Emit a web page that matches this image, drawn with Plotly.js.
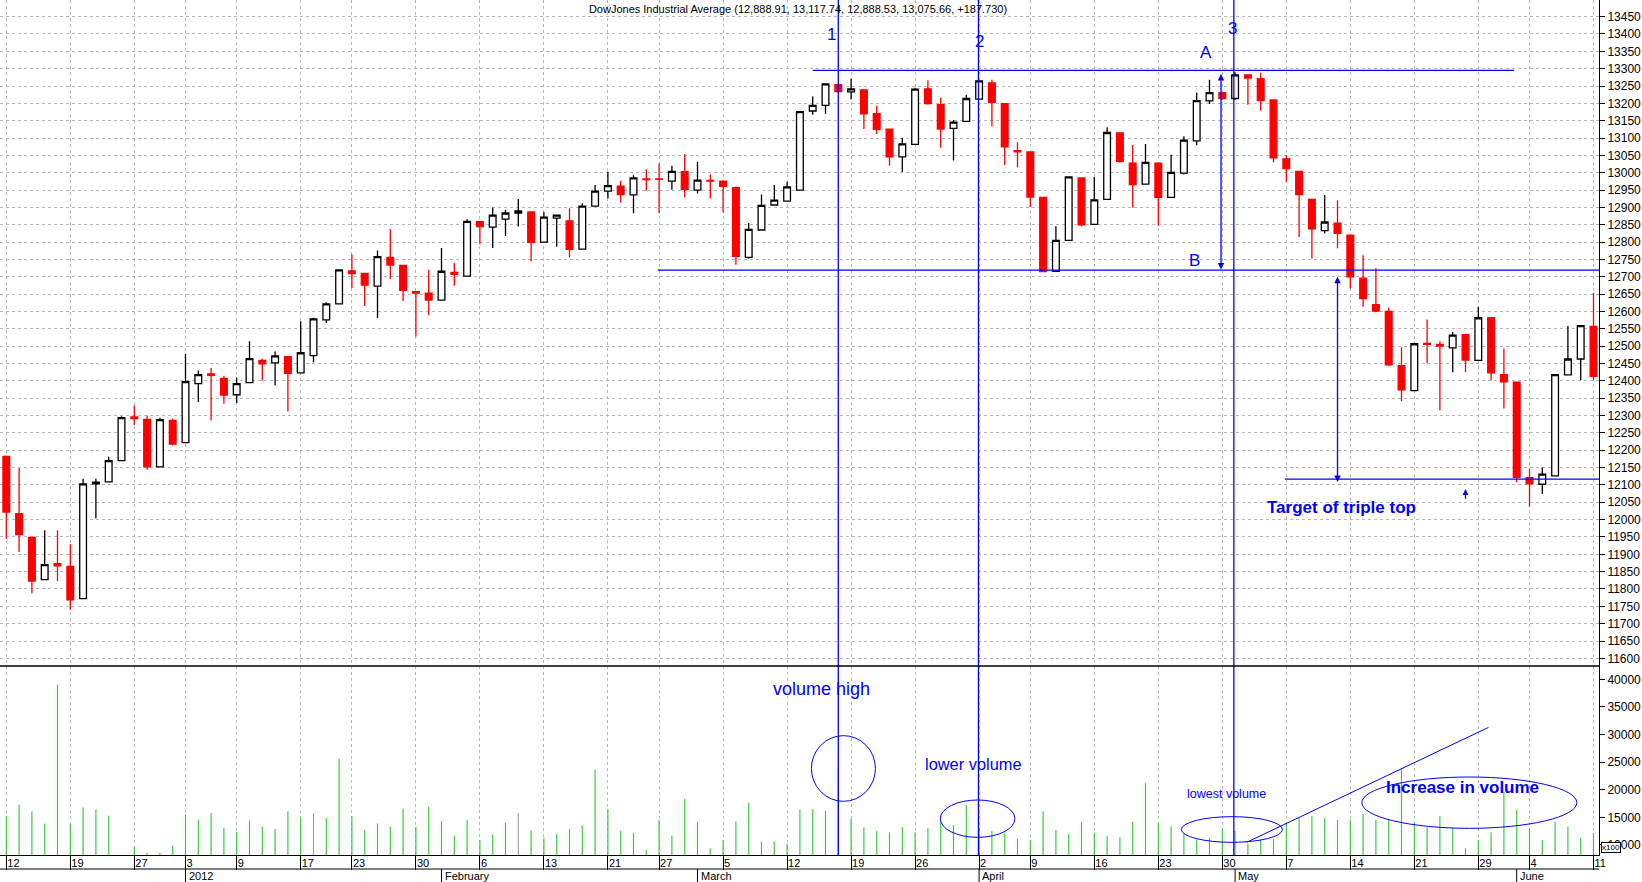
<!DOCTYPE html>
<html><head><meta charset="utf-8">
<script src="https://cdn.plot.ly/plotly-3.0.1.min.js"></script>
<style>html,body{margin:0;padding:0;background:#fff;}#chart{width:1642px;height:882px;}</style>
</head><body><div id="chart"></div>
<script>
// ---------- data ----------
const dates = [
 '2011-12-12','2011-12-13','2011-12-14','2011-12-15','2011-12-16','2011-12-19','2011-12-20','2011-12-21','2011-12-22','2011-12-23','2011-12-27','2011-12-28','2011-12-29','2011-12-30',
 '2012-01-03','2012-01-04','2012-01-05','2012-01-06','2012-01-09','2012-01-10','2012-01-11','2012-01-12','2012-01-13','2012-01-17','2012-01-18','2012-01-19','2012-01-20','2012-01-23','2012-01-24','2012-01-25','2012-01-26','2012-01-27','2012-01-30','2012-01-31',
 '2012-02-01','2012-02-02','2012-02-03','2012-02-06','2012-02-07','2012-02-08','2012-02-09','2012-02-10','2012-02-13','2012-02-14','2012-02-15','2012-02-16','2012-02-17','2012-02-21','2012-02-22','2012-02-23','2012-02-24','2012-02-27','2012-02-28','2012-02-29',
 '2012-03-01','2012-03-02','2012-03-05','2012-03-06','2012-03-07','2012-03-08','2012-03-09','2012-03-12','2012-03-13','2012-03-14','2012-03-15','2012-03-16','2012-03-19','2012-03-20','2012-03-21','2012-03-22','2012-03-23','2012-03-26','2012-03-27','2012-03-28','2012-03-29','2012-03-30',
 '2012-04-02','2012-04-03','2012-04-04','2012-04-05','2012-04-09','2012-04-10','2012-04-11','2012-04-12','2012-04-13','2012-04-16','2012-04-17','2012-04-18','2012-04-19','2012-04-20','2012-04-23','2012-04-24','2012-04-25','2012-04-26','2012-04-27','2012-04-30',
 '2012-05-01','2012-05-02','2012-05-03','2012-05-04','2012-05-07','2012-05-08','2012-05-09','2012-05-10','2012-05-11','2012-05-14','2012-05-15','2012-05-16','2012-05-17','2012-05-18','2012-05-21','2012-05-22','2012-05-23','2012-05-24','2012-05-25','2012-05-29','2012-05-30','2012-05-31',
 '2012-06-01','2012-06-04','2012-06-05','2012-06-06','2012-06-07','2012-06-08','2012-06-11'
];
const openP = [
 12182,12017,11949,11827,11873,11865,11772,12103,12109,12170,12296,12289,12152,12286,
 12222,12392,12420,12407,12360,12395,12459,12452,12470,12423,12473,12576,12622,12717,12710,12673,12756,12733,12657,12653,
 12633,12713,12702,12859,12843,12866,12884,12887,12800,12869,12861,12780,12904,12947,12961,12936,12982,12982,12976,13003,
 12950,12978,12976,12957,12756,12835,12907,12918,12950,13178,13194,13254,13233,13239,13170,13126,13046,13082,13242,13196,13128,13148,
 13212,13259,13199,13064,13060,12929,12716,12805,12985,12851,12923,13115,13028,12967,13028,12929,12999,13092,13207,13231,
 13214,13282,13271,13210,13040,13004,12923,12833,12855,12820,12696,12620,12600,12444,12372,12508,12505,12495,12533,12459,12582,12418,
 12396,12121,12102,12126,12417,12463,12557
];
const highP = [
 12185,12149,11950,11969,11969,11929,12118,12118,12181,12298,12329,12300,12294,12291,
 12478,12430,12437,12415,12410,12514,12464,12485,12470,12572,12582,12627,12722,12764,12710,12776,12838,12733,12658,12720,
 12783,12740,12866,12860,12900,12893,12924,12890,12887,12878,12898,12912,12965,13003,12977,12993,13010,13027,13020,13054,
 13032,12996,12976,12960,12855,12937,12965,12974,13178,13220,13258,13256,13271,13240,13193,13127,13101,13245,13266,13217,13152,13225,
 13267,13268,13199,13088,13060,12929,12846,12990,12986,12988,13131,13117,13080,13083,13030,13052,13105,13231,13268,13232,
 13290,13283,13288,13211,13051,13005,12924,12936,12921,12821,12762,12725,12611,12497,12510,12577,12514,12541,12534,12613,12583,12493,
 12397,12147,12150,12418,12558,12560,12654
];
const lowP = [
 11945,11907,11788,11827,11823,11740,11772,12003,12109,12170,12273,12144,12152,12214,
 12222,12339,12286,12334,12336,12395,12401,12387,12312,12423,12454,12567,12622,12668,12616,12581,12694,12630,12528,12590,
 12633,12674,12702,12794,12783,12818,12845,12744,12800,12787,12756,12780,12904,12926,12914,12883,12948,12883,12951,12929,
 12940,12926,12886,12735,12753,12835,12907,12918,12950,13167,13170,13230,13212,13126,13112,13020,13002,13082,13196,13072,13035,13148,
 13212,13133,13022,13015,12901,12713,12716,12805,12846,12851,12923,13029,12899,12967,12847,12928,12995,13079,13198,13210,
 13210,13196,13179,13030,12974,12815,12753,12825,12782,12666,12614,12598,12443,12341,12372,12450,12315,12425,12425,12459,12402,12320,
 12108,12038,12074,12126,12417,12402,12402
];
const closeP = [
 12022,11957,11823,11870,11867,11769,12103,12108,12170,12294,12291,12152,12288,12218,
 12398,12418,12416,12359,12392,12464,12449,12472,12422,12481,12579,12622,12720,12709,12676,12758,12734,12661,12653,12633,
 12716,12707,12860,12845,12878,12884,12890,12799,12872,12878,12779,12904,12947,12963,12937,12985,12980,12981,13004,12952,
 12979,12976,12961,12759,12837,12906,12921,12959,13176,13194,13256,13234,13242,13170,13125,13046,13083,13241,13199,13126,13146,13214,
 13265,13203,13075,13060,12930,12715,12805,12988,12850,12922,13116,13033,12966,13030,12929,13001,13094,13208,13231,13214,
 13282,13273,13208,13043,13012,12937,12838,12858,12825,12700,12637,12601,12446,12374,12507,12505,12500,12532,12460,12582,12423,12397,
 12122,12103,12131,12418,12463,12559,12413
];
// volume in hundreds (axis shows "x100")
const volume = [
 15200,17300,16100,13900,39000,13700,16800,16400,15300,8000,9700,8600,8600,9900,
 15500,14600,15800,13100,12400,14400,13300,12900,16100,15000,15700,14900,25600,15200,12700,13900,13300,16600,13300,16900,
 14300,11700,14500,10900,11900,14000,15800,12600,11300,12000,12900,13500,23600,16500,12500,12200,9100,14500,11700,18300,
 14200,9400,10900,14300,17600,10600,10600,10200,16400,16500,16200,24000,14700,13200,12500,12300,13200,12300,13000,14200,13600,17200,
 13000,12500,12200,11100,10800,16100,12700,12000,14200,12200,11600,11400,14200,21200,14000,13400,12100,11000,11300,12900,
 12500,10200,11000,11100,14000,14900,15200,14900,14500,14500,15600,14500,14700,23900,14200,13200,15200,13100,9400,10900,12300,19600,
 16400,13000,10900,14200,13300,11300,12200
];
const grayVolumeDays = ['2012-01-18','2012-02-09'];

const dayTickDates = ['2011-12-12','2011-12-19','2011-12-27','2012-01-03','2012-01-09','2012-01-17','2012-01-23','2012-01-30','2012-02-06','2012-02-13','2012-02-21','2012-02-27','2012-03-05','2012-03-12','2012-03-19','2012-03-26','2012-04-02','2012-04-09','2012-04-16','2012-04-23','2012-04-30','2012-05-07','2012-05-14','2012-05-21','2012-05-29','2012-06-04','2012-06-11'];
const dayTickLabels = ['12','19','27','3','9','17','23','30','6','13','21','27','5','12','19','26','2','9','16','23','30','7','14','21','29','4','11'];
const monthStartDates = ['2012-01-03','2012-02-01','2012-03-01','2012-04-02','2012-05-01','2012-06-01'];
const monthLabels = ['2012','February','March','April','May','June'];
const priceTicks = []; for (let p = 11600; p <= 13450; p += 50) priceTicks.push(p);
const volumeTicks = [10000,15000,20000,25000,30000,35000,40000];
const titleText = 'DowJones Industrial Average (12,888.91, 13,117.74, 12,888.53, 13,075.66, +187.730)';

// ---------- chart ----------
const BLUE = '#0000FF';
const GRID = '#b9b9b9';
const FONT = 'Arial, "Liberation Sans", sans-serif';
const PLOT_H = 855;               // plot area height in px
const volFrac = 189 / PLOT_H;     // volume pane height fraction
const idx = d => dates.indexOf(d);

const candle = {
  type: 'candlestick', x: dates, open: openP, high: highP, low: lowP, close: closeP,
  xaxis: 'x', yaxis: 'y',
  increasing: {line: {color: '#000000', width: 1.3}, fillcolor: '#ffffff'},
  decreasing: {line: {color: '#ff0000', width: 1.3}, fillcolor: '#ff0000'},
  whiskerwidth: 0, hoverinfo: 'skip'
};
const vol = {
  type: 'bar', x: dates, y: volume, xaxis: 'x', yaxis: 'y2', width: 0.09,
  marker: {color: dates.map(d => grayVolumeDays.includes(d) ? '#a0a0a0' : '#33cc33'), line: {width: 0}},
  hoverinfo: 'skip'
};

function vline(x) { return {type:'line', xref:'x', yref:'paper', x0:x, x1:x, y0:0, y1:1, line:{color:BLUE, width:1.3}}; }
const shapes = [
  vline(65.0), vline(75.95), vline(95.9),
  {type:'line', xref:'x', yref:'y', x0:63, x1:117.8, y0:13295, y1:13295, line:{color:BLUE, width:1.3}},
  {type:'line', xref:'x', yref:'y', x0:50.9, x1:124.43, y0:12719, y1:12719, line:{color:BLUE, width:1.3}},
  {type:'line', xref:'x', yref:'y', x0:99.9, x1:124.43, y0:12117, y1:12117, line:{color:BLUE, width:1.3}},
  // volume ellipses + trend line
  {type:'circle', xref:'x', yref:'y2', x0:62.9, x1:67.9, y0:17900, y1:29800, line:{color:BLUE, width:1}},
  {type:'circle', xref:'x', yref:'y2', x0:72.97, x1:78.8, y0:11375, y1:18139, line:{color:BLUE, width:1}},
  {type:'circle', xref:'x', yref:'y2', x0:91.8, x1:99.7, y0:10470, y1:15120, line:{color:BLUE, width:1}},
  {type:'circle', xref:'x', yref:'y2', x0:105.9, x1:122.7, y0:13006, y1:22305, line:{color:BLUE, width:1}},
  {type:'line', xref:'x', yref:'y2', x0:96.9, x1:115.8, y0:10470, y1:31300, line:{color:BLUE, width:1}},
  // separator between panes and bottom of date row
  {type:'line', xref:'paper', yref:'paper', x0:0, x1:1, y0:volFrac, y1:volFrac, line:{color:'#000', width:1.5}},
  {type:'line', xref:'paper', yref:'paper', x0:0, x1:1, y0:-14/PLOT_H, y1:-14/PLOT_H, line:{color:'#000', width:1}}
];
monthStartDates.forEach(d => shapes.push({type:'line', xref:'x', yref:'paper', x0:idx(d), x1:idx(d), y0:-14/PLOT_H, y1:-27/PLOT_H, line:{color:'#000', width:1}}));

function txt(text, x, y, yref, size, bold) {
  return {text: bold ? '<b>' + text + '</b>' : text, x, y, xref:'x', yref, showarrow:false,
          xanchor:'center', yanchor:'middle', font:{family:FONT, size, color:BLUE}};
}
function arrow(x, yHead, yTail, both, size) {
  return {text:'', x, y:yHead, ax:x, ay:yTail, xref:'x', yref:'y', axref:'x', ayref:'y',
          showarrow:true, arrowhead:2, startarrowhead:2, arrowside: both ? 'end+start' : 'end',
          arrowsize:size || 1, startarrowsize:size || 1, arrowwidth:1.3, arrowcolor:BLUE, standoff:0, startstandoff:0};
}
const annotations = [
  txt('1', 64.5, 13398, 'y', 17), txt('2', 76.0, 13379, 'y', 17), txt('3', 95.8, 13416, 'y', 17),
  txt('A', 93.7, 13347, 'y', 17), txt('B', 92.8, 12748, 'y', 17),
  txt('Target of triple top', 104.35, 12035, 'y', 17, true),
  txt('volume high', 63.65, 38312, 'y2', 18),
  txt('lower volume', 75.6, 24573, 'y2', 16.4),
  txt('lowest volume', 95.3, 19275, 'y2', 12.5),
  txt('Increase in volume', 113.8, 20442, 'y2', 17, true),
  arrow(94.9, 13285, 12717, true),
  arrow(104.0, 12700, 12104, true),
  arrow(114.0, 12088, 12056, false, 0.9),
  {text:'x100', xref:'paper', yref:'paper', x:1.001, y:8/PLOT_H, xanchor:'left', yanchor:'middle', showarrow:false,
   font:{family:FONT, size:8, color:'#000'}, bordercolor:'#000', borderwidth:1, borderpad:0, bgcolor:'#fff'}
];
monthStartDates.forEach((d, i) => annotations.push({text: monthLabels[i], x: idx(d), y: -21/PLOT_H, xref:'x', yref:'paper',
  xanchor:'left', yanchor:'middle', xshift:1, showarrow:false, font:{family:FONT, size:11, color:'#000'}}));

const layout = {
  width: 1642, height: 882,
  margin: {l:0, r:43, t:0, b:27, pad:0},
  paper_bgcolor:'#fff', plot_bgcolor:'#fff', showlegend:false, hovermode:false,
  boxgap: 0.25,
  font: {family: FONT, size: 11, color: '#000'},
  title: {text: titleText, x: 798/1642, xref:'container', xanchor:'center', y: 1 - 9/882, yref:'container', yanchor:'middle',
          font: {family: FONT, size: 11, color:'#000'}},
  xaxis: {type:'category', range:[-0.492, 124.43], anchor:'y2', rangeslider:{visible:false},
          tickmode:'array', tickvals: dayTickDates, ticktext: dayTickLabels,
          ticks:'outside', ticklen:14, tickwidth:1, tickcolor:'#000', ticklabelposition:'outside right', ticklabelstandoff:-2,
          tickfont:{family:FONT, size:11, color:'#000'},
          showgrid:true, gridcolor:GRID, griddash:'3px,3px', gridwidth:1,
          showline:true, linecolor:'#000', linewidth:1, zeroline:false},
  yaxis: {domain:[volFrac, 1], range:[11578, 13498], side:'right', anchor:'x',
          tickmode:'array', tickvals: priceTicks, tickformat:'d',
          ticks:'outside', ticklen:5, tickcolor:'#000', tickfont:{family:FONT, size:12, color:'#000'},
          showgrid:true, gridcolor:GRID, griddash:'3px,3px', gridwidth:1,
          showline:true, linecolor:'#000', linewidth:1, zeroline:false},
  yaxis2: {domain:[0, volFrac], range:[8174, 42416], side:'right', anchor:'x',
          tickmode:'array', tickvals: volumeTicks, tickformat:'d',
          ticks:'outside', ticklen:5, tickcolor:'#000', tickfont:{family:FONT, size:12, color:'#000'},
          showgrid:false, showline:true, linecolor:'#000', linewidth:1, zeroline:false},
  shapes, annotations
};
Plotly.newPlot('chart', [vol, candle], layout, {staticPlot:true, displayModeBar:false});
</script>
</body></html>
